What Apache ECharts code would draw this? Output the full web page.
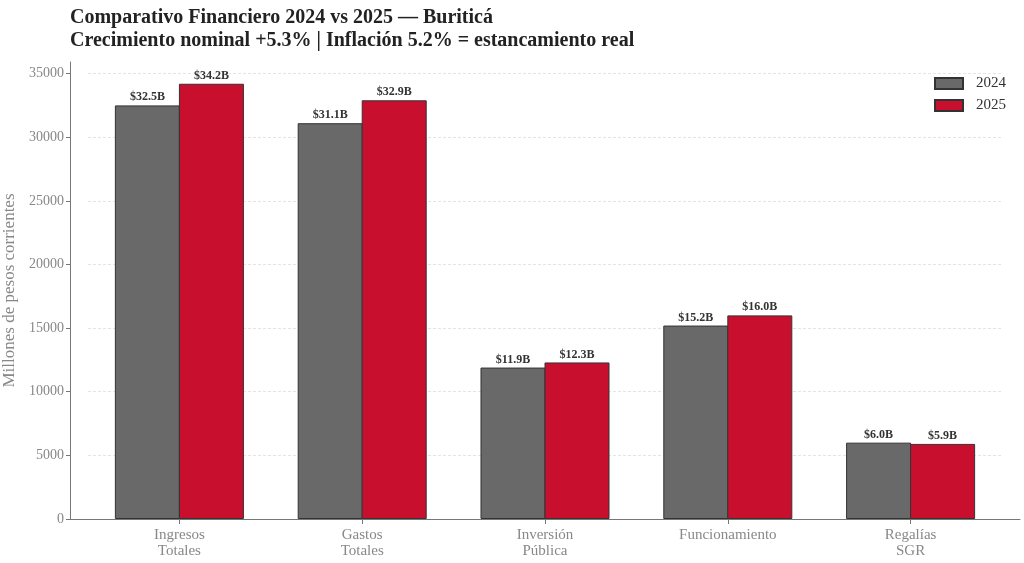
<!DOCTYPE html>
<html>
<head>
<meta charset="utf-8">
<script src="https://cdn.jsdelivr.net/npm/echarts@6/dist/echarts.min.js"></script>
<style>html,body{margin:0;padding:0;background:#fff}#c{width:1024px;height:563px}</style>
</head>
<body>
<div id="c"></div>
<script>
const categories = ['Ingresos\nTotales', 'Gastos\nTotales', 'Inversión\nPública', 'Funcionamiento', 'Regalías\nSGR'];
const values2024 = [32500, 31100, 11900, 15200, 6000];
const values2025 = [34200, 32900, 12300, 16000, 5900];
const seriesNames = ['2024', '2025'];
const yTicks = [0, 5000, 10000, 15000, 20000, 25000, 30000, 35000];
const titleLines = ['Comparativo Financiero 2024 vs 2025 — Buriticá', 'Crecimiento nominal +5.3% | Inflación 5.2% = estancamiento real'];

const FONT = 'Liberation Serif, DejaVu Serif, serif';
const chart = echarts.init(document.getElementById('c'), null, {renderer: 'canvas'});
const yMax = 35910;
const fmt = p => '$' + (p.value / 1000).toFixed(1) + 'B';
const lbl = {show: true, position: 'top', distance: 2, formatter: fmt, fontFamily: FONT, fontWeight: 'bold', fontSize: 12, color: '#333'};

chart.setOption({
  animation: false,
  backgroundColor: '#fff',
  title: {
    text: titleLines.join('\n'),
    left: 70, top: 6, padding: 0,
    textStyle: {fontFamily: FONT, fontWeight: 'bold', fontSize: 20, lineHeight: 23, color: '#222'}
  },
  legend: {
    orient: 'vertical', right: 13, top: 71, itemWidth: 28, itemHeight: 11, itemGap: 7, icon: 'rect',
    data: seriesNames,
    textStyle: {fontFamily: FONT, fontSize: 15, color: '#333', padding: [0, 0, 0, 8]}
  },
  grid: [
    {left: 88, right: 22, top: 62, bottom: 44, outerBoundsMode: 'none', containLabel: false},
    {left: 70, right: 4, top: 62, bottom: 44, outerBoundsMode: 'none', containLabel: false}
  ],
  xAxis: [
    {
      type: 'category', gridIndex: 0, data: categories,
      axisLine: {show: false},
      axisTick: {show: true, alignWithLabel: true, length: 5, lineStyle: {color: '#777'}},
      axisLabel: {fontFamily: FONT, fontSize: 15, color: '#888', lineHeight: 16, margin: 8, interval: 0}
    },
    {
      type: 'value', gridIndex: 1, min: 0, max: 1,
      axisLine: {show: true, onZero: false, lineStyle: {color: '#777', width: 1}},
      axisTick: {show: false}, axisLabel: {show: false}, splitLine: {show: false}
    }
  ],
  yAxis: [
    {
      type: 'value', gridIndex: 0, min: 0, max: yMax, interval: 5000, offset: 18,
      name: 'Millones de pesos corrientes', nameLocation: 'middle', nameGap: 52,
      nameTextStyle: {fontFamily: FONT, fontSize: 17, color: '#888'},
      axisLine: {show: true, lineStyle: {color: '#777'}},
      axisTick: {show: true, length: 4, lineStyle: {color: '#777'}},
      axisLabel: {fontFamily: FONT, fontSize: 14, color: '#888', margin: 6, showMaxLabel: false,
        formatter: v => yTicks.indexOf(v) >= 0 ? String(v) : ''},
      splitLine: {show: true, showMaxLine: false, lineStyle: {color: '#ddd', type: [3, 2], width: 0.8}}
    },
    {type: 'value', gridIndex: 1, show: false, min: 0, max: 1}
  ],
  series: [
    {
      name: seriesNames[0], type: 'bar', xAxisIndex: 0, yAxisIndex: 0, data: values2024,
      barWidth: 65, barGap: '-1.5%',
      itemStyle: {color: '#696969', borderColor: '#333', borderWidth: 1},
      label: lbl
    },
    {
      name: seriesNames[1], type: 'bar', xAxisIndex: 0, yAxisIndex: 0, data: values2025,
      barWidth: 65, barGap: '-1.5%',
      itemStyle: {color: '#C8102E', borderColor: '#333', borderWidth: 1},
      label: lbl
    }
  ]
});
</script>
</body>
</html>
